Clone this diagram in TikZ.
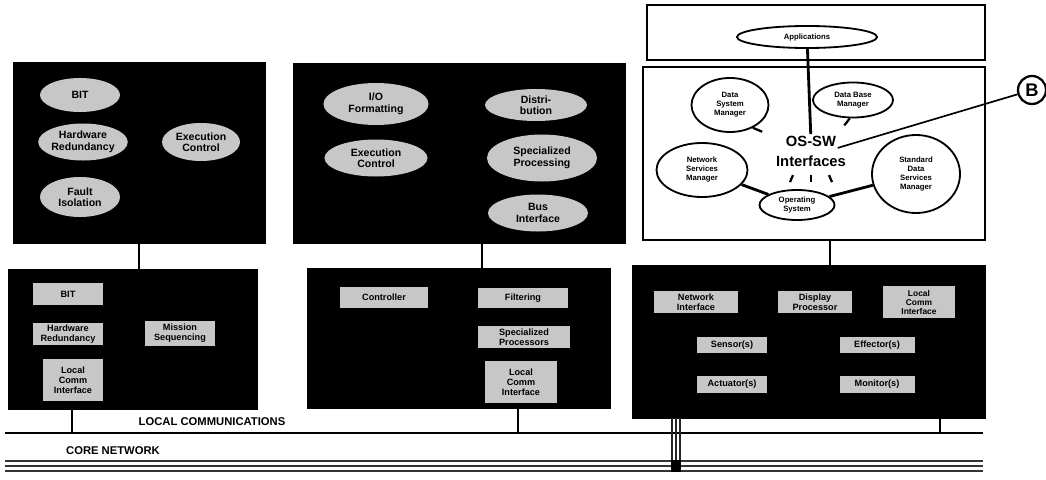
\documentclass[tikz,border=0pt]{standalone}
\usepackage{fontspec}
\setsansfont{Liberation Sans}
\usetikzlibrary{shapes.geometric,calc}
\begin{document}
\begin{tikzpicture}[x=0.025cm,y=-0.025cm,
  panel/.style={draw=black, fill=black, inner sep=0},
  winbox/.style={draw=black, fill=white, inner sep=0},
  blob/.style={ellipse, fill=black!22, inner sep=0, align=center,
    font=\sffamily\bfseries\fontsize{7.5}{8.2}\selectfont},
  tag/.style={rectangle, fill=black!22, inner sep=0, align=center,
    font=\sffamily\bfseries\fontsize{6.5}{7}\selectfont},
  osblob/.style={ellipse, draw=black, line width=1.3pt, fill=white, inner sep=0,
    align=center, font=\sffamily\bfseries\fontsize{5.5}{6.4}\selectfont},
  link/.style={draw=black, line width=0.8pt},
  heavy/.style={draw=black, line width=2pt},
  tail/.style={draw=black, line width=1.6pt},
  buslabel/.style={font=\sffamily\bfseries\fontsize{8}{9}\selectfont, inner sep=0},
  bigword/.style={font=\sffamily\bfseries\fontsize{10.5}{11}\selectfont, inner sep=1pt},
]
\useasboundingbox (0,0) rectangle (1046,480);

% ---------- left column ----------
\node[panel, minimum width=6.3cm, minimum height=4.525cm] (LT) at (139,152.5) {};
\node[blob, minimum width=2cm, minimum height=0.85cm] (LT1) at (80,95) {BIT};
\node[blob, minimum width=2cm, minimum height=0.925cm] (LT2) at (83,142) {Hardware\\Redundancy};
\node[blob, minimum width=1.95cm, minimum height=0.95cm] (LT3) at (201,142) {Execution\\Control};
\node[blob, minimum width=2cm, minimum height=1cm] (LT4) at (80,197) {Fault\\Isolation};

\node[panel, minimum width=6.225cm, minimum height=3.5cm] (LB) at (132.5,339) {};
\node[tag, minimum width=1.75cm, minimum height=0.55cm] (LB1) at (68,294) {BIT};
\node[tag, minimum width=1.75cm, minimum height=0.55cm] (LB2) at (68,334) {Hardware\\Redundancy};
\node[tag, minimum width=1.75cm, minimum height=0.625cm] (LB3) at (180,333) {Mission\\Sequencing};
\node[tag, minimum width=1.5cm, minimum height=1.05cm] (LB4) at (73,380) {Local\\Comm\\Interface};

% ---------- middle column ----------
\node[panel, minimum width=8.3cm, minimum height=4.5cm] (MT) at (459,153) {};
\node[blob, minimum width=2.625cm, minimum height=1.05cm] (MT1) at (376,104) {I/O\\Formatting};
\node[blob, minimum width=2.55cm, minimum height=0.8cm] (MT2) at (536,105) {Distri-\\bution};
\node[blob, minimum width=2.575cm, minimum height=0.925cm] (MT3) at (376,158) {Execution\\Control};
\node[blob, minimum width=2.75cm, minimum height=1.175cm] (MT4) at (542,158) {Specialized\\Processing};
\node[blob, minimum width=2.5cm, minimum height=0.925cm] (MT5) at (538,213) {Bus\\Interface};

\node[panel, minimum width=7.575cm, minimum height=3.5cm] (MB) at (458.5,338) {};
\node[tag, minimum width=2.2cm, minimum height=0.525cm] (MB1) at (384,297) {Controller};
\node[tag, minimum width=2.25cm, minimum height=0.5cm] (MB2) at (523,298) {Filtering};
\node[tag, minimum width=2.3cm, minimum height=0.55cm] (MB3) at (524,337) {Specialized\\Processors};
\node[tag, minimum width=1.8cm, minimum height=1.05cm] (MB4) at (521,382) {Local\\Comm\\Interface};

% ---------- right column ----------
\node[winbox, line width=1.4pt, minimum width=8.45cm, minimum height=1.375cm] (APP) at (816,32.5) {};
\node[osblob, minimum width=3.5cm, minimum height=0.55cm] (APPe) at (807,37) {Applications};

\node[winbox, line width=1.8pt, minimum width=8.55cm, minimum height=4.325cm] (OS) at (814,153.5) {};
\node[osblob, minimum width=1.925cm, minimum height=1.35cm] (DSM) at (730,105) {Data\\System\\Manager};
\node[osblob, minimum width=2cm, minimum height=0.875cm] (DBM) at (853,100) {Data Base\\Manager};
\node[osblob, minimum width=2.275cm, minimum height=1.35cm] (NSM) at (702,170) {Network\\Services\\Manager};
\node[osblob, minimum width=2.2cm, minimum height=1.95cm] (SDSM) at (916,174) {Standard\\Data\\Services\\Manager};
\node[osblob, minimum width=1.875cm, minimum height=0.75cm] (OpSys) at (797,205) {Operating\\System};
\node[bigword] (os1) at (811,141) {OS-SW};
\node[bigword] (os2) at (811,161) {Interfaces};
\node[circle, draw=black, line width=1.6pt, fill=white, minimum size=0.7cm, inner sep=0,
      font=\sffamily\bfseries\fontsize{13}{14}\selectfont] (B) at (1032,90) {B};

\draw[heavy] (APPe) -- (os1);
\draw[link, line width=1.2pt] (os1.south east) -- (B);
\draw[heavy] (NSM) -- (OpSys);
\draw[heavy] (OpSys) -- (SDSM);
\draw[tail] (DSM.-45) -- ($(DSM.-45)!0.3!(os1.west)$);
\draw[tail] (DBM.-100) -- ($(DBM.-100)!0.45!(os1.north east)$);
\foreach \dx/\tx in {-18/-3, 0/0, 18/3}
  \draw[tail] ($(os2.south)+(\dx,7)$) -- ++(\tx,7);

\node[panel, minimum width=8.825cm, minimum height=3.825cm] (RB) at (808.5,341.5) {};
\node[tag, minimum width=2.075cm, minimum height=0.55cm] (RB1) at (696,302) {Network\\Interface};
\node[tag, minimum width=1.85cm, minimum height=0.55cm] (RB2) at (815,302) {Display\\Processor};
\node[tag, minimum width=1.8cm, minimum height=0.8cm,
      font=\sffamily\bfseries\fontsize{6}{6.4}\selectfont] (RB3) at (919,302) {Local\\Comm\\Interface};
\node[tag, minimum width=1.75cm, minimum height=0.4cm] (RB4) at (732,345) {Sensor(s)};
\node[tag, minimum width=1.875cm, minimum height=0.4cm] (RB5) at (877,345) {Effector(s)};
\node[tag, minimum width=1.75cm, minimum height=0.425cm] (RB6) at (732,384) {Actuator(s)};
\node[tag, minimum width=1.875cm, minimum height=0.425cm] (RB7) at (877,384) {Monitor(s)};

% ---------- vertical links between layers ----------
\coordinate (mx) at (482,0);
\coordinate (rx) at (830,0);
\draw[link] (LT.south) -- (LT.south |- LB.north);
\draw[link] (MT.south -| mx) -- (MB.north -| mx);
\draw[link] (OS.south -| rx) -- (RB.north -| rx);

% ---------- networks ----------
\coordinate (lcW) at (5,433);
\coordinate (lcE) at (983,433);
\coordinate (dropL) at (72,433);
\coordinate (dropM) at (518,433);
\coordinate (dropR) at (940,433);
\draw[draw=black, line width=1.6pt] (lcW) -- (lcE);
\draw[link] (LB.south -| dropL) -- (dropL);
\draw[link] (MB.south -| dropM) -- (dropM);
\draw[link] (RB.south -| dropR) -- (dropR);

\foreach \yy in {461,466,471}
  \draw[draw=black!80, line width=1.4pt] (5,\yy) -- (983,\yy);
\coordinate (core) at (676,471);
\foreach \dx in {-4,0,4}
  \draw[draw=black!85, line width=0.9pt] ([xshift=\dx*0.025cm]RB.south -| core) -- ([xshift=\dx*0.025cm]core);
\node[fill=black, minimum width=0.25cm, minimum height=0.3cm, inner sep=0] (hub) at (676,466) {};

\node[buslabel] (lclabel) at (212,422) {LOCAL COMMUNICATIONS};
\node[buslabel] (cnlabel) at (113,451) {CORE NETWORK};
\end{tikzpicture}
\end{document}
